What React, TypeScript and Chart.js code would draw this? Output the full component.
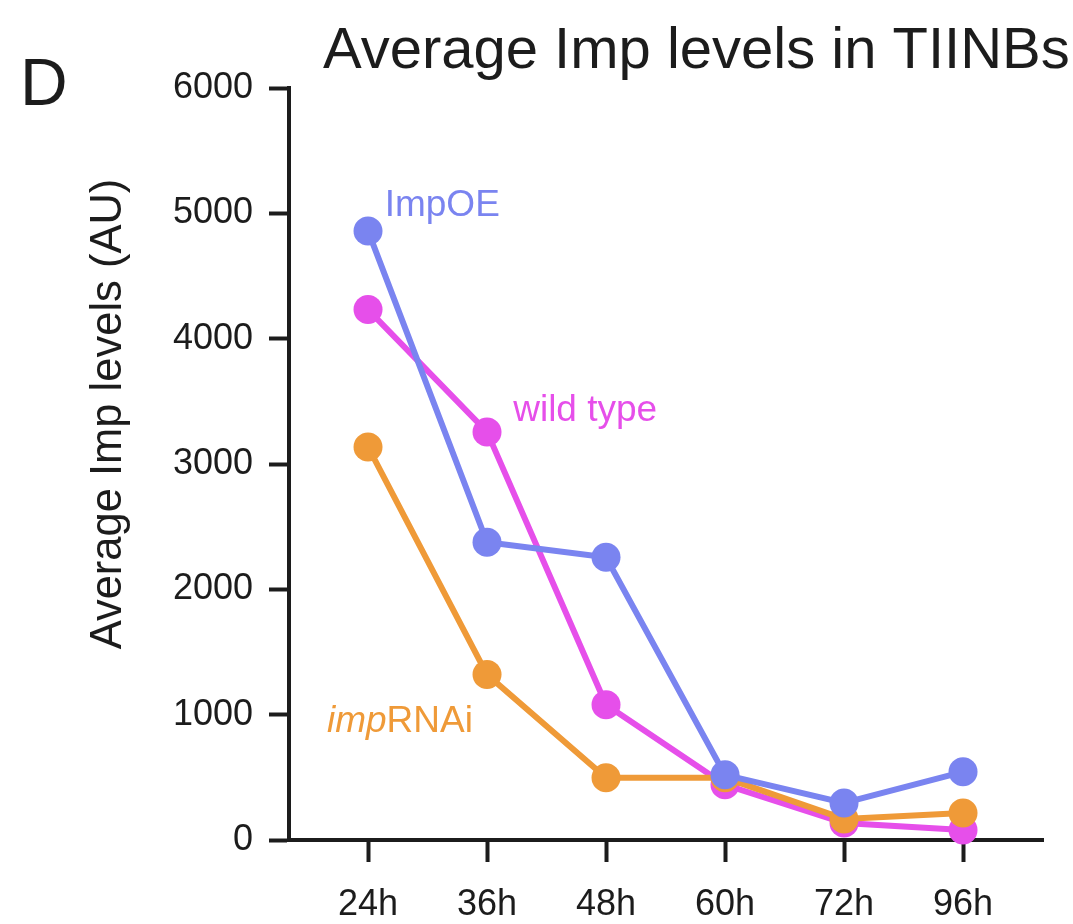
import React, { useEffect, useRef } from "react";
import { Chart, registerables } from "chart.js";

Chart.register(...registerables);

const categories = ["24h", "36h", "48h", "60h", "72h", "96h"];
const impOE = [4860, 2376, 2256, 520, 296, 544];
const wildType = [4232, 3256, 1080, 440, 136, 80];
const impRNAi = [3136, 1320, 496, 496, 168, 216];
const yTicks = [0, 1000, 2000, 3000, 4000, 5000, 6000];

const BLUE = "#7a84f0";
const MAGENTA = "#e64fea";
const ORANGE = "#ef9a38";
const INK = "#1c1c1c";
const FONT = "'Liberation Sans', Arial, Helvetica, sans-serif";

const textPlugin = {
  id: "textPlugin",
  afterDraw(chart: any) {
    const ctx = chart.ctx as CanvasRenderingContext2D;
    const xs = chart.scales.x;
    const ys = chart.scales.y;
    ctx.save();
    // Panel letter
    ctx.fillStyle = INK;
    ctx.textBaseline = "alphabetic";
    ctx.textAlign = "left";
    ctx.font = `66px ${FONT}`;
    ctx.fillText("D", 20, 105);
    // Title
    ctx.font = `58px ${FONT}`;
    ctx.fillText("Average Imp levels in TIINBs", 323, 68);
    // Y axis title
    ctx.save();
    ctx.translate(121, 414);
    ctx.rotate(-Math.PI / 2);
    ctx.textAlign = "center";
    ctx.font = `43.5px ${FONT}`;
    ctx.fillText("Average Imp levels (AU)", 0, 0);
    ctx.restore();
    // Series labels
    ctx.textBaseline = "middle";
    ctx.font = `37px ${FONT}`;
    ctx.fillStyle = BLUE;
    ctx.fillText("ImpOE", xs.getPixelForValue(0.14), ys.getPixelForValue(5064));
    ctx.fillStyle = MAGENTA;
    ctx.fillText("wild type", xs.getPixelForValue(1.22), ys.getPixelForValue(3424));
    ctx.fillStyle = ORANGE;
    const lx = xs.getPixelForValue(-0.345);
    const ly = ys.getPixelForValue(944);
    ctx.font = `italic 37px ${FONT}`;
    ctx.fillText("imp", lx, ly);
    const w = ctx.measureText("imp").width;
    ctx.font = `37px ${FONT}`;
    ctx.fillText("RNAi", lx + w, ly);
    ctx.restore();
  },
};

function series(values: number[]) {
  return categories.map((_, i) => ({ x: i, y: values[i] }));
}

export default function App() {
  const ref = useRef<HTMLCanvasElement>(null);
  useEffect(() => {
    if (!ref.current) return;
    const mk = (label: string, values: number[], color: string, order: number) => ({
      label,
      data: series(values),
      borderColor: color,
      backgroundColor: color,
      pointBackgroundColor: color,
      pointBorderColor: color,
      pointBorderWidth: 0,
      pointRadius: 14.5,
      borderWidth: 6,
      tension: 0,
      clip: false as any,
      order,
    });
    const chart = new Chart(ref.current, {
      type: "line",
      data: {
        datasets: [
          mk("ImpOE", impOE, BLUE, 1),
          mk("impRNAi", impRNAi, ORANGE, 2),
          mk("wild type", wildType, MAGENTA, 3),
        ],
      },
      options: {
        animation: false,
        responsive: false,
        devicePixelRatio: 1,
        layout: { padding: { top: 88, right: 30, left: 0, bottom: 0 } },
        plugins: {
          legend: { display: false },
          tooltip: { enabled: false },
          title: { display: false },
        },
        scales: {
          x: {
            type: "linear",
            min: -0.664,
            max: 5.672,
            afterBuildTicks: (scale: any) => {
              scale.ticks = categories.map((_, i) => ({ value: i }));
            },
            afterFit: (scale: any) => {
              scale.height = 84;
            },
            ticks: {
              autoSkip: false,
              maxRotation: 0,
              padding: 21,
              color: INK,
              font: { family: FONT, size: 36 },
              callback: (v: any) => categories[Math.round(Number(v))] ?? "",
            },
            grid: {
              drawOnChartArea: false,
              drawTicks: true,
              tickLength: 22,
              tickWidth: 4,
              tickColor: INK,
            },
            border: { display: true, width: 4, color: INK },
          },
          y: {
            type: "linear",
            min: 0,
            max: 6000,
            afterBuildTicks: (scale: any) => {
              scale.ticks = yTicks.map((v) => ({ value: v }));
            },
            afterFit: (scale: any) => {
              scale.width = 289;
            },
            ticks: {
              padding: 16,
              color: INK,
              font: { family: FONT, size: 36 },
              callback: (v: any) => String(v),
            },
            grid: {
              drawOnChartArea: false,
              drawTicks: true,
              tickLength: 20,
              tickWidth: 4,
              tickColor: INK,
            },
            border: { display: true, width: 4, color: INK },
          },
        },
      },
      plugins: [textPlugin],
    });
    return () => chart.destroy();
  }, []);
  return (
    <div style={{ position: "fixed", left: 0, top: 0, width: 1073, height: 924, background: "#fff" }}>
      <canvas ref={ref} width={1073} height={924} style={{ width: 1073, height: 924, display: "block" }} />
    </div>
  );
}
